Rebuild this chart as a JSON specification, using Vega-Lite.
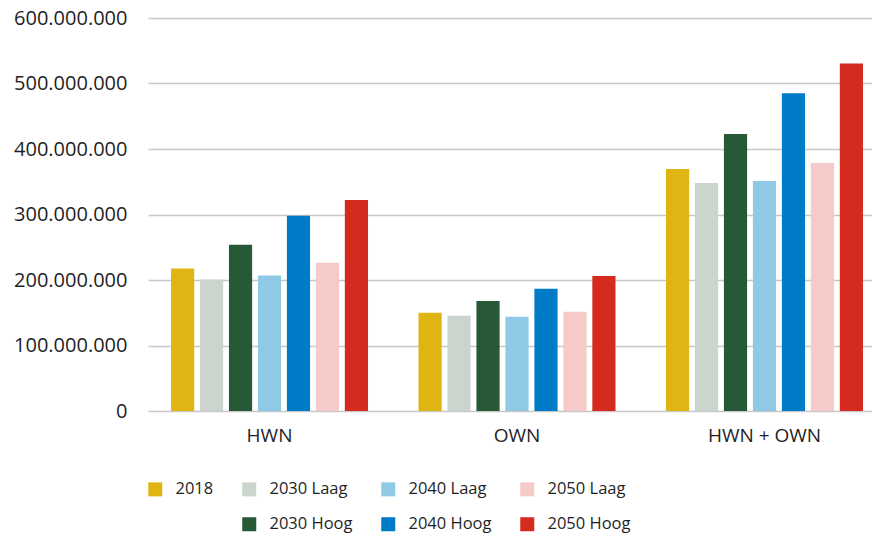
{
  "$schema": "https://vega.github.io/schema/vega-lite/v6.json",
  "width": 738,
  "height": 393,
  "autosize": "none",
  "padding": {"left": 148, "top": 18, "right": 0, "bottom": 123},
  "background": "white",
  "config": {
    "locale": {"number": {"decimal": ",", "thousands": ".", "grouping": [3], "currency": ["€", ""]}},
    "view": {"stroke": null},
    "font": "Open Sans"
  },
  "data": {
    "values": [
      {"netwerk": "HWN", "serie": "2018", "waarde": 217400000},
      {"netwerk": "HWN", "serie": "2030 Laag", "waarde": 200700000},
      {"netwerk": "HWN", "serie": "2030 Hoog", "waarde": 254000000},
      {"netwerk": "HWN", "serie": "2040 Laag", "waarde": 207000000},
      {"netwerk": "HWN", "serie": "2040 Hoog", "waarde": 298000000},
      {"netwerk": "HWN", "serie": "2050 Laag", "waarde": 226500000},
      {"netwerk": "HWN", "serie": "2050 Hoog", "waarde": 322000000},
      {"netwerk": "OWN", "serie": "2018", "waarde": 150000000},
      {"netwerk": "OWN", "serie": "2030 Laag", "waarde": 145500000},
      {"netwerk": "OWN", "serie": "2030 Hoog", "waarde": 168000000},
      {"netwerk": "OWN", "serie": "2040 Laag", "waarde": 144000000},
      {"netwerk": "OWN", "serie": "2040 Hoog", "waarde": 186500000},
      {"netwerk": "OWN", "serie": "2050 Laag", "waarde": 151600000},
      {"netwerk": "OWN", "serie": "2050 Hoog", "waarde": 206000000},
      {"netwerk": "HWN + OWN", "serie": "2018", "waarde": 369500000},
      {"netwerk": "HWN + OWN", "serie": "2030 Laag", "waarde": 348000000},
      {"netwerk": "HWN + OWN", "serie": "2030 Hoog", "waarde": 423000000},
      {"netwerk": "HWN + OWN", "serie": "2040 Laag", "waarde": 351000000},
      {"netwerk": "HWN + OWN", "serie": "2040 Hoog", "waarde": 485000000},
      {"netwerk": "HWN + OWN", "serie": "2050 Laag", "waarde": 378600000},
      {"netwerk": "HWN + OWN", "serie": "2050 Hoog", "waarde": 530600000}
    ]
  },
  "mark": {"type": "bar"},
  "encoding": {
    "x": {
      "field": "netwerk",
      "type": "nominal",
      "sort": ["HWN", "OWN", "HWN + OWN"],
      "scale": {"paddingInner": 0.204, "paddingOuter": 0.093},
      "axis": {
        "title": null,
        "labelAngle": 0,
        "domain": false,
        "ticks": false,
        "labelFontSize": 19,
        "labelColor": "#1f1f1f",
        "labelPadding": 15,
        "grid": false
      }
    },
    "xOffset": {
      "field": "serie",
      "type": "nominal",
      "sort": ["2018", "2030 Laag", "2030 Hoog", "2040 Laag", "2040 Hoog", "2050 Laag", "2050 Hoog"],
      "scale": {"paddingInner": 0.2, "paddingOuter": 0}
    },
    "y": {
      "field": "waarde",
      "type": "quantitative",
      "scale": {"domain": [0, 600000000], "nice": false},
      "axis": {
        "title": null,
        "values": [0, 100000000, 200000000, 300000000, 400000000, 500000000, 600000000],
        "format": ",d",
        "domain": false,
        "ticks": false,
        "labelFontSize": 20,
        "labelColor": "#1f1f1f",
        "labelPadding": 21,
        "gridColor": "#c8c8c8",
        "gridWidth": 1.3
      }
    },
    "color": {
      "field": "serie",
      "type": "nominal",
      "scale": {
        "domain": ["2018", " ", "2030 Laag", "2030 Hoog", "2040 Laag", "2040 Hoog", "2050 Laag", "2050 Hoog"],
        "range": ["#e0b413", "transparent", "#cbd5cd", "#275937", "#8fc9e6", "#007bc7", "#f6cac8", "#d52b1e"]
      },
      "legend": {
        "title": null,
        "orient": "none",
        "legendX": -1,
        "legendY": 463,
        "padding": 0,
        "columns": 4,
        "gridAlign": "each",
        "columnPadding": 27,
        "rowPadding": 18,
        "symbolType": "square",
        "symbolSize": 196,
        "symbolStrokeWidth": 0,
        "labelFontSize": 16.5,
        "labelColor": "#1f1f1f",
        "labelOffset": 12
      }
    }
  }
}
